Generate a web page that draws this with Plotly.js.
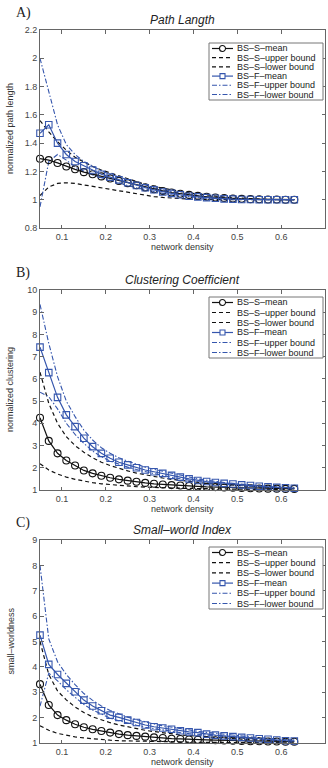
<!DOCTYPE html>
<html>
<head>
<meta charset="utf-8">
<script src="https://cdn.plot.ly/plotly-3.0.1.min.js"></script>
<style>html,body{margin:0;padding:0;background:#fff;}#chart{width:328px;height:768px;}</style>
</head>
<body>
<div id="chart"></div>
<script>
// ---------- data ----------
const density = [0.05,0.07,0.09,0.11,0.13,0.15,0.17,0.19,0.21,0.23,0.25,0.27,0.29,0.31,0.33,0.35,0.37,0.39,0.41,0.43,0.45,0.47,0.49,0.51,0.53,0.55,0.57,0.59,0.61,0.63];

// A) Path length
const pathSMean  = [1.29,1.28,1.26,1.235,1.215,1.195,1.18,1.165,1.15,1.133,1.117,1.102,1.087,1.074,1.062,1.051,1.042,1.034,1.027,1.021,1.016,1.012,1.008,1.006,1.004,1.003,1.002,1.001,1.0,1.0];
const pathSUpper = [1.56,1.48,1.41,1.35,1.30,1.265,1.235,1.21,1.19,1.17,1.145,1.125,1.108,1.094,1.081,1.069,1.058,1.048,1.04,1.032,1.025,1.019,1.014,1.01,1.007,1.004,1.002,1.001,1.0,1.0];
const pathSLower = [1.03,1.09,1.115,1.12,1.115,1.105,1.095,1.085,1.075,1.063,1.05,1.04,1.03,1.022,1.016,1.011,1.007,1.004,1.002,1.001,1.0,1.0,1.0,1.0,1.0,1.0,1.0,1.0,1.0,1.0];
const pathFMean  = [1.47,1.53,1.40,1.32,1.27,1.24,1.21,1.18,1.16,1.14,1.12,1.10,1.085,1.07,1.055,1.045,1.035,1.025,1.02,1.015,1.01,1.006,1.004,1.002,1.001,1.0,1.0,1.0,1.0,1.0];
const pathFUpper = [2.0,1.76,1.53,1.39,1.32,1.27,1.235,1.205,1.18,1.16,1.14,1.12,1.10,1.085,1.07,1.058,1.046,1.036,1.028,1.02,1.014,1.01,1.006,1.004,1.002,1.001,1.0,1.0,1.0,1.0];
const pathFLower = [0.95,1.27,1.32,1.28,1.23,1.2,1.175,1.155,1.135,1.115,1.1,1.085,1.07,1.057,1.045,1.035,1.027,1.02,1.015,1.01,1.007,1.005,1.003,1.002,1.001,1.0,1.0,1.0,1.0,1.0];

// B) Clustering coefficient
const clusSMean  = [4.25,3.21,2.65,2.33,2.1,1.88,1.75,1.64,1.55,1.48,1.42,1.37,1.32,1.28,1.25,1.22,1.2,1.18,1.16,1.14,1.13,1.11,1.1,1.09,1.08,1.07,1.06,1.06,1.05,1.05];
const clusSUpper = [6.3,4.9,4.0,3.4,3.0,2.7,2.45,2.25,2.1,1.97,1.86,1.76,1.68,1.6,1.54,1.48,1.43,1.38,1.34,1.3,1.27,1.24,1.21,1.18,1.16,1.14,1.12,1.1,1.09,1.08];
const clusSLower = [2.18,1.9,1.72,1.58,1.48,1.4,1.33,1.28,1.24,1.2,1.17,1.15,1.13,1.11,1.1,1.09,1.08,1.07,1.06,1.055,1.05,1.045,1.04,1.035,1.03,1.03,1.025,1.02,1.02,1.02];
const clusFMean  = [7.43,6.28,5.17,4.38,3.85,3.33,2.95,2.65,2.43,2.25,2.13,2.0,1.9,1.82,1.75,1.66,1.58,1.5,1.43,1.38,1.34,1.3,1.27,1.23,1.2,1.17,1.14,1.12,1.1,1.08];
const clusFUpper = [9.35,7.6,6.1,5.0,4.3,3.7,3.25,2.9,2.65,2.45,2.3,2.15,2.03,1.93,1.84,1.75,1.66,1.57,1.5,1.44,1.38,1.34,1.3,1.26,1.22,1.19,1.16,1.14,1.12,1.1];
const clusFLower = [5.4,5.2,4.65,4.0,3.5,3.1,2.75,2.5,2.3,2.15,2.03,1.92,1.82,1.73,1.65,1.57,1.5,1.44,1.38,1.33,1.29,1.25,1.22,1.19,1.16,1.13,1.11,1.09,1.07,1.06];

// C) Small-world index
const swSMean  = [3.32,2.5,2.1,1.9,1.74,1.62,1.54,1.47,1.41,1.35,1.31,1.28,1.25,1.22,1.2,1.17,1.16,1.14,1.13,1.12,1.11,1.1,1.09,1.08,1.07,1.07,1.06,1.06,1.05,1.05];
const swSUpper = [5.0,3.7,3.05,2.7,2.42,2.2,2.03,1.9,1.8,1.71,1.63,1.56,1.5,1.45,1.4,1.36,1.32,1.29,1.26,1.23,1.21,1.19,1.17,1.15,1.13,1.12,1.1,1.09,1.08,1.07];
const swSLower = [1.68,1.5,1.38,1.3,1.24,1.2,1.16,1.13,1.11,1.09,1.08,1.07,1.06,1.05,1.045,1.04,1.035,1.03,1.03,1.025,1.02,1.02,1.02,1.015,1.015,1.01,1.01,1.01,1.01,1.01];
const swFMean  = [5.25,4.1,3.7,3.35,3.02,2.69,2.46,2.27,2.1,2.01,1.9,1.81,1.71,1.64,1.59,1.54,1.48,1.44,1.41,1.35,1.31,1.28,1.25,1.22,1.2,1.17,1.15,1.12,1.09,1.08];
const swFUpper = [8.0,5.1,4.2,3.7,3.3,2.95,2.68,2.46,2.28,2.14,2.02,1.92,1.83,1.75,1.68,1.62,1.56,1.51,1.46,1.42,1.38,1.34,1.3,1.27,1.24,1.21,1.19,1.16,1.14,1.12];
const swFLower = [2.45,3.75,3.45,3.1,2.8,2.52,2.3,2.13,1.98,1.88,1.78,1.7,1.62,1.56,1.5,1.45,1.41,1.37,1.34,1.3,1.27,1.24,1.22,1.2,1.17,1.15,1.13,1.11,1.09,1.07];

const seriesNames = ['BS–S–mean','BS–S–upper bound','BS–S–lower bound','BS–F–mean','BS–F–upper bound','BS–F–lower bound'];
const panelLetters = ['A)','B)','C)'];
const panelTitles = ['Path Langth','Clustering Coefficient','Small–world Index'];
const yTitles = ['normalized path length','normalized clustering','small–worldness'];
const xTitle = 'network density';
const xTicks = [0.1,0.2,0.3,0.4,0.5,0.6,0.7];
const yTicksA = [0.8,1,1.2,1.4,1.6,1.8,2,2.2];
const yTickTextA = ['0.8','1','1.2','1.4','1.6','1.8','2','2.2'];
const yTicksB = [1,2,3,4,5,6,7,8,9,10];
const yTicksC = [1,2,3,4,5,6,7,8,9];

// ---------- styling / layout ----------
const W = 328, H = 768, L = 40, R = 3;
const BLACK = '#111111', BLUE = '#3556ad';
const FONT = 'Liberation Sans, Arial, sans-serif';
const pxX = p => (p - L) / (W - L - R);
const pxY = p => 1 - p / H;

const panels = [
  {sets:[pathSMean,pathSUpper,pathSLower,pathFMean,pathFUpper,pathFLower], top:30, bottom:228, range:[0.8,2.2], tv:yTicksA, tt:yTickTextA, legTop:43, legBot:100},
  {sets:[clusSMean,clusSUpper,clusSLower,clusFMean,clusFUpper,clusFLower], top:290, bottom:490, range:[1,10], tv:yTicksB, tt:yTicksB.map(String), legTop:297, legBot:358},
  {sets:[swSMean,swSUpper,swSLower,swFMean,swFUpper,swFLower], top:540, bottom:743, range:[1,9], tv:yTicksC, tt:yTicksC.map(String), legTop:547, legBot:609}
];

const styles = [
  {color:BLACK, dash:'solid', marker:'circle-open', lw:1.2},
  {color:BLACK, dash:'4px,3px', marker:null, lw:1.2},
  {color:BLACK, dash:'4px,3px', marker:null, lw:1.2},
  {color:BLUE, dash:'solid', marker:'square-open', lw:1.2},
  {color:BLUE, dash:'5px,2px,1.5px,2px', marker:null, lw:1.1},
  {color:BLUE, dash:'5px,2px,1.5px,2px', marker:null, lw:1.1}
];

const traces = [];
const layout = {
  width: W, height: H,
  margin: {l: L, r: R, t: 0, b: 0},
  paper_bgcolor: '#ffffff', plot_bgcolor: '#ffffff',
  showlegend: false,
  font: {family: FONT, size: 9, color: '#333'},
  shapes: [], annotations: []
};

panels.forEach((p, k) => {
  const xa = k === 0 ? 'x' : 'x' + (k + 1);
  const ya = k === 0 ? 'y' : 'y' + (k + 1);
  const xk = k === 0 ? 'xaxis' : 'xaxis' + (k + 1);
  const yk = k === 0 ? 'yaxis' : 'yaxis' + (k + 1);
  const order = [1,2,4,5,0,3];
  order.forEach(i => {
    const s = styles[i];
    const t = {
      x: density, y: p.sets[i], xaxis: xa, yaxis: ya, name: seriesNames[i],
      type: 'scatter', mode: s.marker ? 'lines+markers' : 'lines',
      line: {color: s.color, width: s.lw, dash: s.dash},
      cliponaxis: false, hoverinfo: 'skip'
    };
    if (s.marker) {
      t.marker = {symbol: s.marker, size: s.marker === 'circle-open' ? 7 : 6.5, color: s.color, line: {color: s.color, width: 1.1}};
    }
    traces.push(t);
  });
  const axCommon = {
    showline: true, mirror: 'ticks', linecolor: '#666', linewidth: 1,
    ticks: 'inside', ticklen: 3.5, tickcolor: '#666', tickwidth: 1,
    showgrid: false, zeroline: false, tickfont: {family: FONT, size: 9, color: '#444'}
  };
  layout[xk] = Object.assign({}, axCommon, {
    domain: [0, 1], anchor: ya, range: [0.05, 0.7],
    tickmode: 'array', tickvals: xTicks, ticktext: xTicks.map(String)
  });
  layout[yk] = Object.assign({}, axCommon, {
    domain: [pxY(p.bottom), pxY(p.top)], anchor: xa, range: p.range,
    tickmode: 'array', tickvals: p.tv, ticktext: p.tt
  });
  const cx = (L + W - R) / 2;
  layout.annotations.push({text: panelLetters[k], xref: 'paper', yref: 'paper', x: pxX(14), y: pxY(p.top - 17), xanchor: 'left', yanchor: 'middle', showarrow: false, font: {family: 'Liberation Serif, Times New Roman, serif', size: 14, color: '#222'}});
  layout.annotations.push({text: '<i>' + panelTitles[k] + '</i>', xref: 'paper', yref: 'paper', x: pxX(cx), y: pxY(p.top - 10), xanchor: 'center', yanchor: 'middle', showarrow: false, font: {family: FONT, size: 12, color: '#222'}});
  layout.annotations.push({text: xTitle, xref: 'paper', yref: 'paper', x: pxX(cx), y: pxY(p.bottom + 19), xanchor: 'center', yanchor: 'middle', showarrow: false, font: {family: FONT, size: 9, color: '#333'}});
  layout.annotations.push({text: yTitles[k], xref: 'paper', yref: 'paper', x: pxX(10), y: pxY((p.top + p.bottom) / 2), xanchor: 'center', yanchor: 'middle', textangle: -90, showarrow: false, font: {family: FONT, size: 9, color: '#333'}});

  const lx0 = 209, lx1 = 323;
  layout.shapes.push({type: 'rect', xref: 'paper', yref: 'paper', x0: pxX(lx0), x1: pxX(lx1), y0: pxY(p.legBot), y1: pxY(p.legTop), line: {color: '#777', width: 1}, fillcolor: '#ffffff', layer: 'above'});
  const step = (p.legBot - p.legTop - 11) / 5;
  styles.forEach((s, i) => {
    const ry = p.legTop + 5.5 + i * step;
    layout.shapes.push({type: 'line', xref: 'paper', yref: 'paper', x0: pxX(212), x1: pxX(233), y0: pxY(ry), y1: pxY(ry), line: {color: s.color, width: s.lw, dash: s.dash}, layer: 'above'});
    if (s.marker === 'circle-open') {
      layout.shapes.push({type: 'circle', xref: 'paper', yref: 'paper', x0: pxX(219.5), x1: pxX(225.5), y0: pxY(ry + 3), y1: pxY(ry - 3), line: {color: s.color, width: 1.1}, fillcolor: '#ffffff', layer: 'above'});
    } else if (s.marker === 'square-open') {
      layout.shapes.push({type: 'rect', xref: 'paper', yref: 'paper', x0: pxX(220), x1: pxX(225), y0: pxY(ry + 2.5), y1: pxY(ry - 2.5), line: {color: s.color, width: 1.1}, fillcolor: '#ffffff', layer: 'above'});
    }
    layout.annotations.push({text: seriesNames[i], xref: 'paper', yref: 'paper', x: pxX(235), y: pxY(ry), xanchor: 'left', yanchor: 'middle', showarrow: false, font: {family: FONT, size: 9, color: '#222'}});
  });
});

Plotly.newPlot('chart', traces, layout, {staticPlot: true, displayModeBar: false});
</script>
</body>
</html>
